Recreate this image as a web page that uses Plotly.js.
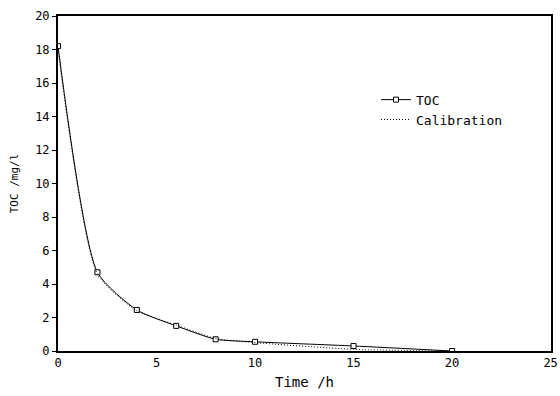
<!DOCTYPE html>
<html><head><meta charset="utf-8">
<script src="https://cdn.plot.ly/plotly-3.0.1.min.js"></script>
<style>body{margin:0;background:#fff}</style></head>
<body><div id="chart" style="width:560px;height:396px"></div>
<script>
const timeH = [0, 2, 4, 6, 8, 10, 15, 20];
const tocValues = [18.2, 4.7, 2.45, 1.5, 0.7, 0.55, 0.3, 0.0];
const calibTime = [0, 2, 4, 6, 8, 10, 15, 20];
const calibValues = [18.0, 4.6, 2.4, 1.55, 0.75, 0.5, 0.1, 0.0];
const xTicks = [0, 5, 10, 15, 20, 25];
const fontFam = '"DejaVu Sans Mono", "Liberation Mono", monospace';
const traces = [
  {x: timeH, y: tocValues, name: 'TOC', mode: 'lines+markers', type: 'scatter',
   line: {color: '#000', width: 1, shape: 'spline', smoothing: 0.6},
   marker: {symbol: 'square', size: 5, color: '#fff', line: {width: 1, color: '#000'}}},
  {x: calibTime, y: calibValues, name: 'Calibration', mode: 'lines', type: 'scatter',
   line: {color: '#000', width: 1, dash: '1px,2px', shape: 'spline', smoothing: 0.6}}
];
const layout = {
  width: 560, height: 396,
  margin: {l: 58, r: 9, t: 16, b: 45},
  paper_bgcolor: '#fff', plot_bgcolor: '#fff',
  font: {family: fontFam, size: 12, color: '#000'},
  showlegend: true,
  legend: {x: 0.645, y: 0.795, xanchor: 'left', yanchor: 'top', bgcolor: 'rgba(0,0,0,0)',
           font: {size: 13, family: fontFam}, tracegroupgap: 0, itemwidth: 30},
  xaxis: {range: [0, 25.02], tickvals: xTicks, ticktext: xTicks.map(String), showgrid: false, zeroline: false,
          showline: true, linecolor: '#000', linewidth: 2, mirror: true,
          ticks: '', tickfont: {size: 12}, ticklabeloverflow: 'allow',
          title: {text: 'Time /h', font: {size: 14}, standoff: 8}},
  yaxis: {range: [0, 20], dtick: 2, showgrid: false, zeroline: false,
          showline: true, linecolor: '#000', linewidth: 2, mirror: true,
          ticks: 'outside', ticklen: 4, tickcolor: '#000', tickfont: {size: 12},
          title: {text: 'TOC /mg/l', font: {size: 11}, standoff: 14}}
};
Plotly.newPlot('chart', traces, layout, {displayModeBar: false, staticPlot: true});
</script></body></html>
